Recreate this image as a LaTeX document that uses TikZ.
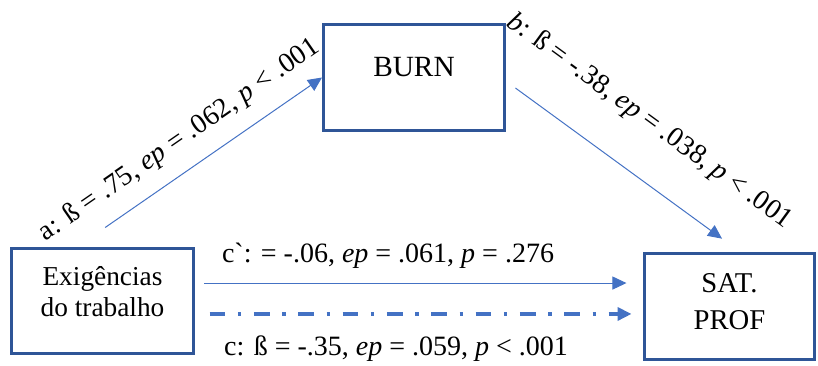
\documentclass[tikz,border=0pt]{standalone}
\usepackage{fontspec}
\setmainfont{Liberation Serif}
\usetikzlibrary{arrows.meta, positioning}

\definecolor{boxblue}{HTML}{2F5597}
\definecolor{arrowblue}{HTML}{4472C4}

\begin{document}
\begin{tikzpicture}[
    x=0.75pt, y=-0.75pt,
    every node/.style={font=\fontsize{21}{25}\selectfont},
    varbox/.style={rectangle, draw=boxblue, line width=2.25pt, inner sep=0pt},
    boxtext/.style={align=center, inner sep=0pt},
    coef/.style={inner sep=0pt},
    effect/.style={draw=arrowblue, line width=0.75pt,
        -{Triangle[length=10.5pt, width=9.75pt]}},
    total/.style={draw=arrowblue, line width=2.6pt,
        dash pattern=on 11.75pt off 9.5pt on 2.5pt off 9.5pt,
        -{Triangle[length=10.5pt, width=9.75pt]}},
]
\useasboundingbox (0,0) rectangle (818,365);

% Variables
\node[varbox, minimum width=136.5pt, minimum height=78.75pt] (exig) at (102.5,300.5) {};
\node[varbox, minimum width=135.75pt, minimum height=79.5pt] (burn) at (414,77.5) {};
\node[varbox, minimum width=127.5pt, minimum height=79.5pt] (sat) at (729.5,306.5) {};

\node[boxtext, font=\fontsize{20.5}{23.25}\selectfont] (exigtxt) at ([yshift=6.4pt]exig.center)
    {Exigências\\do trabalho};
\node[boxtext, font=\fontsize{22}{26}\selectfont] (burntxt) at ([yshift=8.1pt]burn.center) {BURN};
\node[boxtext, font=\fontsize{21.5}{27.75}\selectfont] (sattxt) at ([yshift=3.75pt]sat.center)
    {SAT.\\PROF};

% Paths a and b
\draw[effect] ([xshift=2pt, yshift=14.25pt]exig.north) -- (burn.west)
    node[coef, sloped, above=12pt, pos=0.42] (lbla)
    {a: ß = .75, \textit{ep} = .062, \textit{p} < .001};
\draw[effect] ([xshift=7.1pt, yshift=-7.9pt]burn.east) -- ([xshift=-5.6pt, yshift=10pt]sat.north)
    node[coef, sloped, above=29pt, pos=0.5] (lblb)
    {\textit{b}: ß = -.38, \textit{ep} = .038, \textit{p} < .001};

% Direct (c`) and total (c) effects
\draw[effect] ([xshift=7.1pt, yshift=13.1pt]exig.east) -- ([xshift=-12.4pt, yshift=17.6pt]sat.west)
    node[coef, above=10.5pt, pos=0.435] (lblcd)
    {c\textasciigrave: = -.06, \textit{ep} = .061, \textit{p} = .276};
\draw[total] ([xshift=10.9pt, yshift=-10.1pt]exig.east) -- ([xshift=-8.6pt, yshift=-5.6pt]sat.west)
    node[coef, below=15pt, pos=0.442] (lblc)
    {c: ß = -.35, \textit{ep} = .059, \textit{p} < .001};

\end{tikzpicture}
\end{document}
